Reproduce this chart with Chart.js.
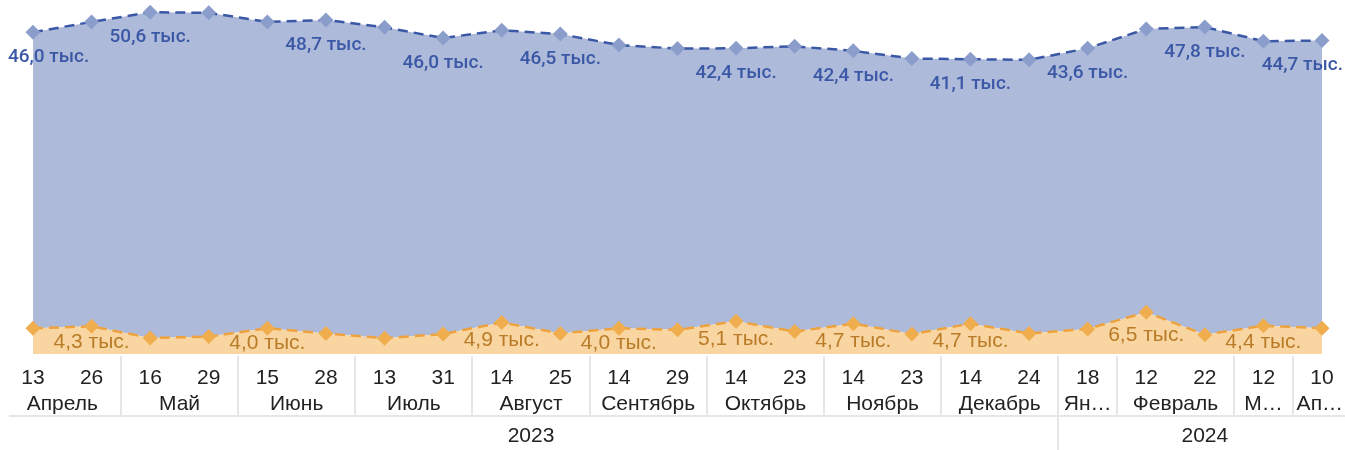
<!DOCTYPE html>
<html>
<head>
<meta charset="utf-8">
<script src="https://cdn.jsdelivr.net/npm/chart.js@4/dist/chart.umd.min.js"></script>
<style>
  body { margin: 0; background: #fff; }
  canvas { display: block; }
</style>
</head>
<body>
<canvas id="chart" width="1345" height="450"></canvas>
<script>
// day of each weekly point
const days = ["13", "26", "16", "29", "15", "28", "13", "31", "14", "25", "14", "29",
  "14", "23", "14", "23", "14", "24", "18", "12", "22", "12", "10"];

// month groups (name, number of points)
const monthNames = ["Апрель", "Май", "Июнь", "Июль", "Август", "Сентябрь", "Октябрь",
  "Ноябрь", "Декабрь", "Ян…", "Февраль", "М…", "Ап…"];
const monthSizes = [2, 2, 2, 2, 2, 2, 2, 2, 2, 1, 2, 1, 1];

const yearNames = ["2023", "2024"];
const yearSizes = [18, 5];

// thousands
const blueValues = [46.0, 47.3, 50.6, 50.3, 47.6, 48.7, 48.3, 46.0, 45.4, 46.5, 44.0, 43.7,
  42.4, 44.3, 42.4, 42.8, 41.1, 42.5, 43.6, 44.0, 47.8, 44.2, 44.7];
const orangeValues = [4.0, 4.3, 2.5, 2.7, 4.0, 3.2, 2.45, 3.1, 4.9, 3.2, 4.0, 3.75,
  5.1, 3.5, 4.7, 3.1, 4.7, 3.2, 3.9, 6.5, 3.0, 4.4, 4.0];

// which points carry a value label
const blueLabelIdx = [0, 2, 5, 7, 9, 12, 14, 16, 18, 20, 22];
const orangeLabelIdx = [1, 4, 8, 10, 12, 14, 16, 19, 21];

const fmt = (v) => v.toFixed(1).replace(".", ",") + " тыс.";

const GRID = "#e6e6e6";
const AXIS_FONT = '21px "Liberation Sans", Arial, sans-serif';

function drawLabel(ctx, text, x, y, W) {
  const w = ctx.measureText(text).width;
  var cx = Math.max(8 + w / 2, Math.min(W - 2 - w / 2, x));
  ctx.fillText(text, cx, y);
}

// value labels under the points
const valueLabels = {
  id: "valueLabels",
  afterDatasetsDraw(chart) {
    const ctx = chart.ctx;
    const W = chart.width;
    const base = chart.scales.y.getPixelForValue(0);
    ctx.save();
    ctx.textAlign = "center";
    ctx.textBaseline = "middle";

    const om = chart.getDatasetMeta(0);
    ctx.font = '21px "Liberation Sans", Arial, sans-serif';
    ctx.fillStyle = "#b97b27";
    orangeLabelIdx.forEach((i) => {
      const p = om.data[i];
      drawLabel(ctx, fmt(orangeValues[i]), p.x, (p.y + base) / 2 + 2, W);
    });

    const bm = chart.getDatasetMeta(1);
    ctx.font = '500 19px Roboto, sans-serif';
    ctx.fillStyle = "#3b58a6";
    blueLabelIdx.forEach((i) => {
      const p = bm.data[i];
      drawLabel(ctx, fmt(blueValues[i]), p.x, p.y + 25, W);
    });
    ctx.restore();
  },
};

// three-row date axis: days, months, years
const dateAxis = {
  id: "dateAxis",
  afterDraw(chart) {
    const ctx = chart.ctx;
    const x = chart.scales.x;
    const W = chart.width;
    const H = chart.height;
    const left = 9;
    const top = 356, mid = 416;

    ctx.save();
    ctx.fillStyle = "#222";
    ctx.font = AXIS_FONT;
    ctx.textAlign = "center";
    ctx.textBaseline = "middle";

    days.forEach((d, i) => {
      ctx.fillText(d, x.getPixelForValue(i), 378);
    });

    ctx.strokeStyle = GRID;
    ctx.lineWidth = 2;

    var start = 0;
    monthNames.forEach((m, k) => {
      const a = x.getPixelForValue(start - 0.5);
      const b = x.getPixelForValue(start + monthSizes[k] - 0.5);
      if (k > 0) {
        ctx.beginPath();
        ctx.moveTo(Math.round(a), top);
        ctx.lineTo(Math.round(a), mid);
        ctx.stroke();
      }
      drawLabel(ctx, m, (a + b) / 2, 404, W);
      start += monthSizes[k];
    });

    ctx.beginPath();
    ctx.moveTo(left, mid);
    ctx.lineTo(W, mid);
    ctx.stroke();

    start = 0;
    yearNames.forEach((y, k) => {
      const a = x.getPixelForValue(start - 0.5);
      const b = x.getPixelForValue(start + yearSizes[k] - 0.5);
      if (k > 0) {
        ctx.beginPath();
        ctx.moveTo(Math.round(a), top);
        ctx.lineTo(Math.round(a), H);
        ctx.stroke();
      }
      ctx.fillText(y, (a + b) / 2, 436);
      start += yearSizes[k];
    });
    ctx.restore();
  },
};

new Chart(document.getElementById("chart"), {
  type: "line",
  data: {
    labels: days,
    datasets: [
      {
        data: orangeValues,
        fill: "origin",
        backgroundColor: "#f9d6a1",
        borderColor: "#eda23d",
        borderWidth: 2.5,
        borderDash: [10, 6],
        pointStyle: "rectRot",
        pointRadius: 7.5,
        pointBorderWidth: 0,
        pointBackgroundColor: "#f0ad4e",
        tension: 0,
        clip: false,
      },
      {
        data: blueValues,
        fill: "-1",
        backgroundColor: "#aebad9",
        borderColor: "#3b58a6",
        borderWidth: 2.5,
        borderDash: [10, 6],
        pointStyle: "rectRot",
        pointRadius: 7.5,
        pointBorderWidth: 0,
        pointBackgroundColor: "#8a9dcb",
        tension: 0,
        clip: false,
      },
    ],
  },
  options: {
    responsive: false,
    animation: false,
    devicePixelRatio: 1,
    layout: { autoPadding: false, padding: { left: 33, right: 23, top: 0, bottom: 96 } },
    plugins: { legend: { display: false }, tooltip: { enabled: false } },
    scales: {
      x: { type: "category", offset: false, display: false },
      y: { display: false, stacked: true, min: 0, max: 55 },
    },
  },
  plugins: [valueLabels, dateAxis],
});
</script>
</body>
</html>
